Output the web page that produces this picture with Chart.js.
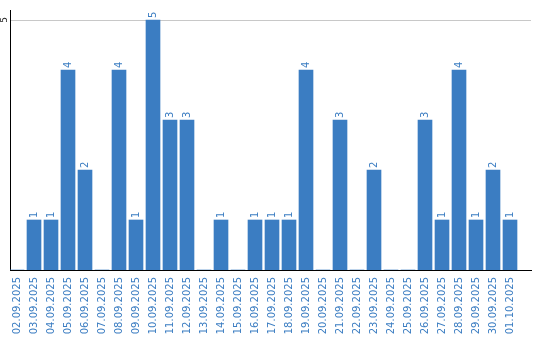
<!DOCTYPE html>
<html>
<head>
<meta charset="utf-8">
<script src="https://cdn.jsdelivr.net/npm/chart.js@4"></script>
<style>
  html, body { margin: 0; padding: 0; background: #fff; }
  #wrap { width: 540px; height: 340px; }
</style>
</head>
<body>
<div id="wrap"><canvas id="chart"></canvas></div>
<script>
const dates = ['02.09.2025', '03.09.2025', '04.09.2025', '05.09.2025', '06.09.2025', '07.09.2025',
  '08.09.2025', '09.09.2025', '10.09.2025', '11.09.2025', '12.09.2025', '13.09.2025',
  '14.09.2025', '15.09.2025', '16.09.2025', '17.09.2025', '18.09.2025', '19.09.2025',
  '20.09.2025', '21.09.2025', '22.09.2025', '23.09.2025', '24.09.2025', '25.09.2025',
  '26.09.2025', '27.09.2025', '28.09.2025', '29.09.2025', '30.09.2025', '01.10.2025'];
const counts = [0, 1, 1, 4, 2, 0, 4, 1, 5, 3, 3, 0, 1, 0, 1, 1, 1, 4, 0, 3, 0, 2, 0, 0, 3, 1, 4, 1, 2, 1];
const yTicks = [5];

const blue = '#3b7dc2';

// numeros em cima das barras + rotulo do eixo y (girados)
const labelsPlugin = {
  id: 'labels',
  afterDatasetsDraw(chart) {
    const ctx = chart.ctx;
    const meta = chart.getDatasetMeta(0);
    ctx.save();
    ctx.font = '10px "DejaVu Sans"';
    ctx.fillStyle = blue;
    ctx.textAlign = 'left';
    ctx.textBaseline = 'middle';
    meta.data.forEach((bar, i) => {
      if (!counts[i]) return;
      ctx.save();
      ctx.translate(bar.x + 0.5, bar.y - 2);
      ctx.rotate(-Math.PI / 2);
      ctx.fillText(String(counts[i]), 0, 0);
      ctx.restore();
    });
    const y = chart.scales.y;
    ctx.fillStyle = '#222';
    ctx.font = '9px "DejaVu Sans"';
    ctx.textAlign = 'center';
    yTicks.forEach(v => {
      ctx.save();
      ctx.translate(y.right - 5, y.getPixelForValue(v));
      ctx.rotate(-Math.PI / 2);
      ctx.fillText(String(v), 0, 0);
      ctx.restore();
    });
    ctx.restore();
  }
};

const ctx = document.getElementById('chart').getContext('2d');
new Chart(ctx, {
  type: 'bar',
  data: {
    datasets: [{
      data: counts.map((c, i) => ({ x: i, y: c })),
      backgroundColor: blue,
      borderWidth: 0,
      barThickness: 14
    }]
  },
  options: {
    responsive: true,
    maintainAspectRatio: false,
    animation: false,
    layout: { padding: { top: 10, right: 9, left: 0, bottom: 0 } },
    plugins: { legend: { display: false }, tooltip: { enabled: false } },
    scales: {
      x: {
        type: 'linear',
        offset: false,
        min: -7 / 17,
        max: 514 / 17,
        afterBuildTicks: axis => { axis.ticks = dates.map((d, i) => ({ value: i })); },
        afterFit: axis => { axis.height = 70; },
        grid: { display: false, drawTicks: false },
        border: { color: '#000', width: 1 },
        ticks: {
          color: blue,
          font: { family: 'DejaVu Sans', size: 10 },
          minRotation: 90,
          maxRotation: 90,
          padding: 7,
          autoSkip: false,
          callback: v => dates[v] || ''
        }
      },
      y: {
        min: 0,
        max: 5.2,
        afterBuildTicks: axis => { axis.ticks = yTicks.map(v => ({ value: v })); },
        afterFit: axis => { axis.width = 10; },
        grid: { color: '#c8c8c8', drawTicks: false },
        border: { color: '#000', width: 1 },
        ticks: { display: false }
      }
    }
  },
  plugins: [labelsPlugin]
});
</script>
</body>
</html>
